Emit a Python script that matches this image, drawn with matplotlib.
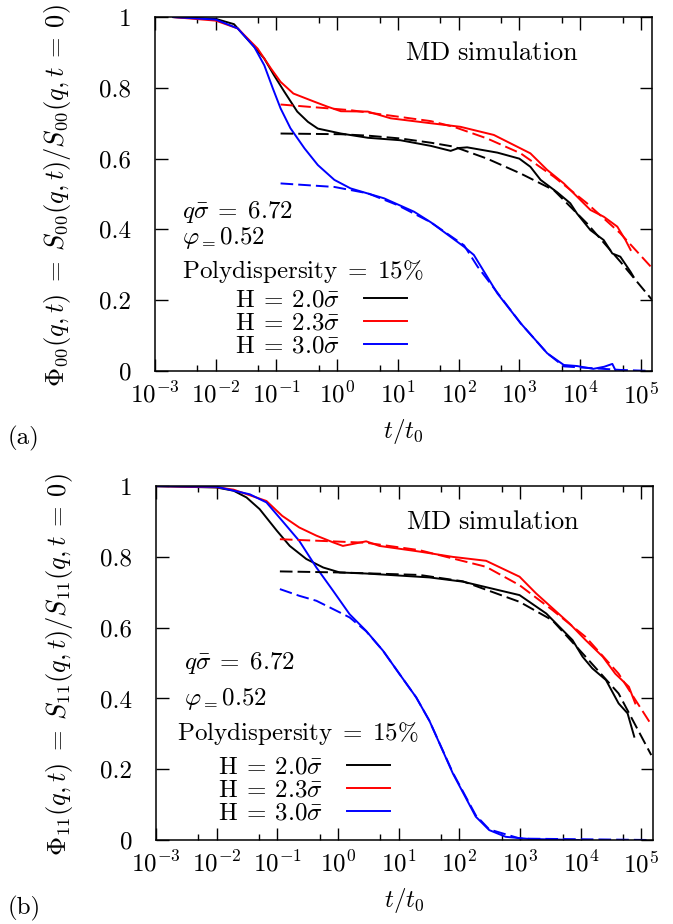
import matplotlib.pyplot as plt
from matplotlib.ticker import FixedLocator, NullFormatter

plt.rcParams['font.family'] = 'cmr10'
plt.rcParams['mathtext.fontset'] = 'cm'
plt.rcParams['axes.unicode_minus'] = False
plt.rcParams['font.size'] = 18

# ---------------- panel (a): Phi_00 ----------------
a_black_t = [0.002, 0.01, 0.02, 0.043, 0.063, 0.091, 0.135, 0.22, 0.33, 0.48, 1.15, 3.2, 11, 35, 74, 100, 138,
             436, 1000, 1520, 2240, 4200, 6900, 8900, 1.48e4, 2.45e4, 3.4e4, 4.6e4, 6.8e4, 7.6e4]
a_black_v = [1.0, 0.995, 0.98, 0.916, 0.883, 0.836, 0.789, 0.733, 0.704, 0.685, 0.671, 0.659, 0.652, 0.636, 0.622, 0.63, 0.632,
             0.617, 0.6, 0.577, 0.54, 0.505, 0.474, 0.445, 0.398, 0.37, 0.332, 0.323, 0.28, 0.266]
a_red_t = [0.002, 0.01, 0.023, 0.049, 0.081, 0.117, 0.19, 0.42, 0.69, 1.15, 3.2, 7.6, 35, 107, 380,
           1520, 2880, 5400, 1.48e4, 2.45e4, 4.1e4, 5.6e4, 6.8e4]
a_red_v = [1.0, 0.99, 0.968, 0.911, 0.855, 0.817, 0.784, 0.761, 0.747, 0.734, 0.733, 0.714, 0.70, 0.69, 0.667,
           0.615, 0.568, 0.53, 0.455, 0.436, 0.408, 0.37, 0.342]
a_blue_t = [0.002, 0.01, 0.023, 0.043, 0.063, 0.087, 0.117, 0.17, 0.29, 0.48, 0.9, 1.66, 5.9, 18.5, 35, 123, 178,
            436, 1050, 2880, 5400, 8900, 1.65e4, 2.5e4, 3.4e4, 3.8e4]
a_blue_v = [1.0, 0.993, 0.968, 0.916, 0.864, 0.799, 0.742, 0.686, 0.629, 0.582, 0.54, 0.516, 0.488, 0.45, 0.42, 0.351, 0.328,
            0.219, 0.135, 0.05, 0.017, 0.014, 0.006, 0.012, 0.02, 0.003]

a_black_fit_t = [0.117, 1.15, 3.2, 11, 35, 83, 295, 1050, 3700, 1.3e4, 4.6e4, 1.55e5]
a_black_fit_v = [0.671, 0.669, 0.665, 0.657, 0.645, 0.634, 0.6, 0.558, 0.511, 0.417, 0.309, 0.2]
a_red_fit_t = [0.117, 1.66, 35, 83, 295, 1050, 3700, 1.3e4, 4.6e4, 1.55e5]
a_red_fit_v = [0.753, 0.737, 0.706, 0.69, 0.657, 0.615, 0.549, 0.474, 0.389, 0.29]
a_blue_fit_t = [0.117, 0.9, 3.2, 9.8, 35, 123, 205, 1050, 2880, 5400, 4.6e4, 1.55e5]
a_blue_fit_v = [0.53, 0.52, 0.502, 0.469, 0.42, 0.355, 0.295, 0.135, 0.05, 0.013, 0.003, 0.0]

# ---------------- panel (b): Phi_11 ----------------
b_black_t = [0.001, 0.01, 0.019, 0.031, 0.051, 0.098, 0.16, 0.30, 0.57, 1.07, 2.9, 32, 114, 980,
             2700, 7300, 1.07e4, 1.55e4, 2.6e4, 4.2e4, 5.9e4, 7.6e4]
b_black_v = [1.0, 0.996, 0.987, 0.968, 0.935, 0.874, 0.831, 0.794, 0.77, 0.756, 0.753, 0.742, 0.73, 0.692,
             0.64, 0.565, 0.518, 0.485, 0.452, 0.386, 0.358, 0.292]
b_red_t = [0.001, 0.01, 0.019, 0.066, 0.12, 0.23, 0.44, 0.83, 1.2, 2.9, 4.8, 22, 78, 275, 980,
           1830, 6500, 1.2e4, 2.3e4, 3.7e4, 6.2e4, 7.9e4]
b_red_v = [1.0, 0.997, 0.99, 0.958, 0.916, 0.883, 0.86, 0.841, 0.831, 0.844, 0.831, 0.815, 0.8, 0.789, 0.744,
           0.697, 0.612, 0.565, 0.518, 0.47, 0.433, 0.386]
b_blue_t = [0.001, 0.01, 0.035, 0.066, 0.12, 0.23, 0.44, 0.83, 1.55, 2.9, 5.5, 10.3, 19.4, 32, 78, 186,
            310, 580, 1400, 9300]
b_blue_v = [1.0, 0.998, 0.977, 0.954, 0.902, 0.845, 0.77, 0.704, 0.638, 0.591, 0.535, 0.469, 0.403, 0.337, 0.188, 0.066,
            0.028, 0.009, 0.003, 0.0]

b_black_fit_t = [0.11, 1.07, 22, 114, 980, 3400, 1.2e4, 4.2e4, 1.45e5]
b_black_fit_v = [0.759, 0.756, 0.749, 0.731, 0.673, 0.621, 0.518, 0.414, 0.24]
b_red_fit_t = [0.11, 2.9, 22, 275, 980, 3400, 1.2e4, 4.2e4, 1.4e5]
b_red_fit_v = [0.85, 0.84, 0.819, 0.772, 0.72, 0.65, 0.574, 0.47, 0.33]
b_blue_fit_t = [0.11, 0.23, 0.44, 1.07, 1.55, 2.9, 5.5, 10.3, 19.4, 32, 78, 186, 310, 1000, 1.45e5]
b_blue_fit_v = [0.709, 0.69, 0.676, 0.643, 0.629, 0.59, 0.535, 0.469, 0.403, 0.337, 0.19, 0.07, 0.03, 0.004, 0.0]

labels = [r'$\mathrm{H}\:=\:2.0\bar{\sigma}$', r'$\mathrm{H}\:=\:2.3\bar{\sigma}$', r'$\mathrm{H}\:=\:3.0\bar{\sigma}$']
colors = ['black', 'red', 'blue']

xticks = [1e-3, 1e-2, 1e-1, 1e0, 1e1, 1e2, 1e3, 1e4, 1e5]
xticklabels = [r'$10^{-3}$', r'$10^{-2}$', r'$10^{-1}$', r'$10^{0}$', r'$10^{1}$',
               r'$10^{2}$', r'$10^{3}$', r'$10^{4}$', r'$10^{5}$']
xminor = [5e-3, 5e-2, 5e-1, 5e0, 5e1, 5e2, 5e3, 5e4]
yticks = [0, 0.2, 0.4, 0.6, 0.8, 1.0]
yticklabels = ['0', '0.2', '0.4', '0.6', '0.8', '1']

fig = plt.figure(figsize=(6.73, 9.24), dpi=100)
ax1 = fig.add_axes([0.2303, 0.5985, 0.7385, 0.383])
ax2 = fig.add_axes([0.2318, 0.0909, 0.738, 0.383])

panels = [
    (ax1, [(a_black_t, a_black_v), (a_red_t, a_red_v), (a_blue_t, a_blue_v)],
     [(a_black_fit_t, a_black_fit_v), (a_red_fit_t, a_red_fit_v), (a_blue_fit_t, a_blue_fit_v)],
     r'$\Phi_{00}(q,t)\;=\;S_{00}(q,t)/S_{00}(q,t\:=\:0)$'),
    (ax2, [(b_black_t, b_black_v), (b_red_t, b_red_v), (b_blue_t, b_blue_v)],
     [(b_black_fit_t, b_black_fit_v), (b_red_fit_t, b_red_fit_v), (b_blue_fit_t, b_blue_fit_v)],
     r'$\Phi_{11}(q,t)\;=\;S_{11}(q,t)/S_{11}(q,t\:=\:0)$'),
]

for ax, md, fits, ylab in panels:
    for (t, v), c, lab in zip(md, colors, labels):
        ax.plot(t, v, color=c, lw=1.4, label=lab)
    for (t, v), c in zip(fits, colors):
        ax.plot(t, v, color=c, lw=1.4, ls=(0, (6.5, 2.6)))
    ax.set_xscale('log')
    ax.set_xlim(1e-3, 1.53e5)
    ax.set_ylim(0, 1)
    ax.xaxis.set_major_locator(FixedLocator(xticks))
    ax.set_xticklabels(xticklabels)
    ax.xaxis.set_minor_locator(FixedLocator(xminor))
    ax.xaxis.set_minor_formatter(NullFormatter())
    ax.set_yticks(yticks)
    ax.set_yticklabels(yticklabels)
    ax.tick_params(which='both', direction='in', top=True, right=True, width=1.0)
    ax.tick_params(which='major', length=9)
    ax.tick_params(which='minor', length=4.5)
    ax.tick_params(axis='x', which='major', pad=8)
    ax.tick_params(axis='y', which='major', pad=17)
    for s in ax.spines.values():
        s.set_linewidth(1.1)
    ax.set_xlabel(r'$t/t_0$')
    ax.xaxis.set_label_coords(0.5, -0.13)
    ax.set_ylabel(ylab, fontsize=19)
    ax.yaxis.set_label_coords(-0.164, 0.495)
    ax.text(0.678, 0.878, r'$\mathrm{MD\ simulation}$', fontsize=19, ha='center', va='baseline',
            transform=ax.transAxes)

# panel (a) annotations
ax1.text(0.054, 0.432, r'$q\bar{\sigma}\;=\;6.72$', transform=ax1.transAxes, va='baseline')
ax1.text(0.054, 0.36, r'$\varphi_{=}0.52$', transform=ax1.transAxes, va='baseline')
ax1.text(0.054, 0.263, r'$\mathrm{Polydispersity}\;=\;15\%$', transform=ax1.transAxes, va='baseline')
ax1.legend(loc='upper right', bbox_to_anchor=(0.507, 0.231), markerfirst=False, frameon=False,
           handlelength=1.7, handletextpad=1.0, labelspacing=0.02, borderpad=0, borderaxespad=0)

# panel (b) annotations
ax2.text(0.056, 0.483, r'$q\bar{\sigma}\;=\;6.72$', transform=ax2.transAxes, va='baseline')
ax2.text(0.056, 0.381, r'$\varphi_{=}0.52$', transform=ax2.transAxes, va='baseline')
ax2.text(0.042, 0.282, r'$\mathrm{Polydispersity}\;=\;15\%$', transform=ax2.transAxes, va='baseline')
ax2.legend(loc='upper right', bbox_to_anchor=(0.471, 0.237), markerfirst=False, frameon=False,
           handlelength=1.7, handletextpad=1.0, labelspacing=0.02, borderpad=0, borderaxespad=0)

fig.text(8 / 673, 1 - 438 / 924, '(a)', va='center')
fig.text(8 / 673, 1 - 908 / 924, '(b)', va='center')

fig.savefig('out.png', dpi=100)
